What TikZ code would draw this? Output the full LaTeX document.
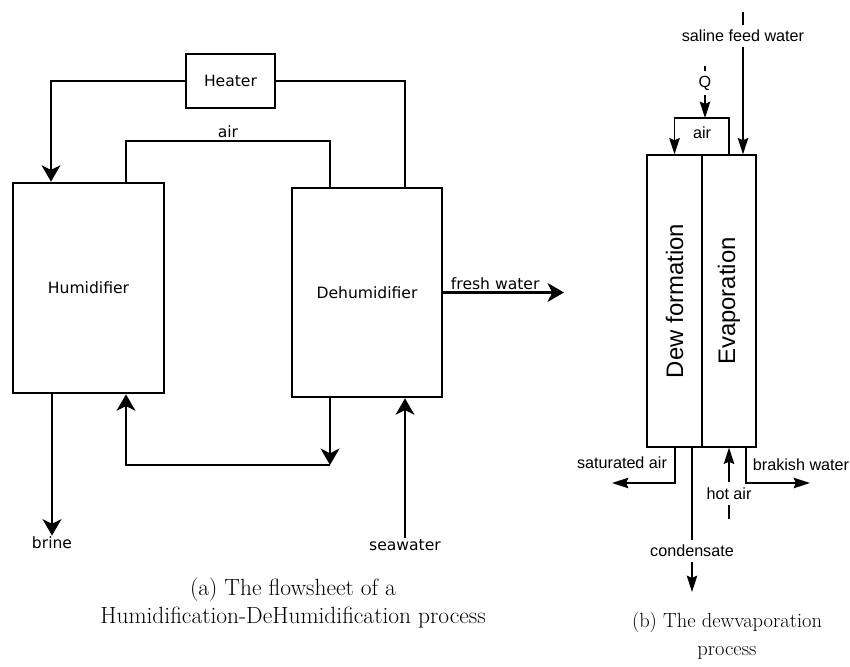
\documentclass[tikz,border=0pt]{standalone}
\usepackage{fontspec}
\usetikzlibrary{arrows.meta}
\newfontfamily\flowfont{DejaVu Sans}
\newfontfamily\dewfont{Liberation Sans}

\begin{document}
\begin{tikzpicture}[x=0.03cm,y=-0.03cm,
  unit/.style={draw,line width=2.2pt,inner sep=1pt},
  flow/.style={line width=2.2pt},
  flowarr/.style={flow,-{Stealth[length=14pt,width=16pt,inset=4pt]}},
  flowlbl/.style={font=\flowfont\fontsize{13.3}{16}\selectfont,inner sep=1pt},
  dew/.style={line width=1.1pt},
  dewarr/.style={dew,-{Stealth[length=14pt,width=9pt,inset=2pt]}},
  dewlbl/.style={font=\dewfont\fontsize{13.8}{16}\selectfont,inner sep=1pt},
  onwire/.style={dewlbl,fill=white,inner xsep=1pt,inner ysep=4.5pt},
  zone/.style={draw,line width=1.1pt,minimum height=8.76cm,inner sep=0pt},
  zonelbl/.style={font=\dewfont\fontsize{20.4}{24}\selectfont,rotate=90},
  caption/.style={align=center}]
\useasboundingbox (0,0) rectangle (850,666);

% (a) humidification - dehumidification
\node[unit,flowlbl,minimum width=2.67cm,minimum height=1.62cm] (heater) at (230.5,81) {Heater};
\node[unit,flowlbl,minimum width=4.53cm,minimum height=6.3cm] (hum) at (88.5,288) {Humidifier};
\node[unit,flowlbl,minimum width=4.5cm,minimum height=6.27cm] (dehum) at (367,292.5) {Dehumidifier};

\draw[flowarr] (heater.west) -| (hum.north -| 51,0);
\draw[flow] (dehum.north -| 405,0) |- (heater.east);
\draw[flow] (hum.north -| 126,0) -- (126,141)
  -- node[flowlbl,above=1pt] (airtxt) {air} (330,141) -- (dehum.north -| 330,0);

\coordinate (freshend) at (564,292.5);
\draw[flowarr] (dehum.east) -- node[flowlbl,above,pos=0.43] (fresh) {fresh water} (freshend);

\node[flowlbl] (brine) at (52,543) {brine};
\draw[flowarr] (hum.south -| brine) -- (brine.north);
\node[flowlbl] (sea) at (405,545) {seawater};
\draw[flowarr] (sea.north) -- (dehum.south -| sea);

\coordinate (retr) at (330,465);
\coordinate (retl) at (126,465);
\draw[flowarr] (dehum.south -| retr) -- (retr);
\draw[flowarr] (retr) -- (retl) -- (hum.south -| retl);

\node[caption,font=\fontsize{20}{23.9}\selectfont] (capa) at (293,603)
  {(a) The flowsheet of a\\Humidification-DeHumidification process};

% (b) dewvaporation
\node[zone,minimum width=1.65cm] (dewz) at (674.5,301) {};
\node[zone,minimum width=1.62cm] (evz) at (729,301) {};
\node[zonelbl] (dewtxt) at (dewz) {Dew formation};
\node[zonelbl] (evtxt) at (evz) {Evaporation};

\coordinate (feedtop) at (743,12);
\draw[dewarr] (feedtop) -- node[onwire,pos=0.168] (feed) {saline feed water} (evz.north -| feedtop);

\coordinate (airtop) at (705,118);
\coordinate (qtop) at (705,66);
\draw[dewarr] (evz.north) |- (airtop) -| (dewz.north);
\node[dewlbl] (airbox) at (702,133) {air};
\draw[dewarr] (qtop) -- node[onwire,pos=0.327] (q) {Q} (airtop);

\coordinate (satend) at (612,483);
\draw[dewarr] (dewz.south -| 675,0) |- (satend);
\node[dewlbl] (sat) at (622,463) {saturated air};

\coordinate (condend) at (692,592);
\draw[dewarr] (dewz.south -| condend) -- node[onwire,pos=0.717] (cond) {condensate} (condend);

\coordinate (hotend) at (729,519);
\draw[dewarr] (hotend) -- node[onwire,pos=0.36] (hot) {hot air} (evz.south -| hotend);

\coordinate (brakend) at (810,483);
\draw[dewarr] (evz.south -| 746,0) |- (brakend);
\node[dewlbl] (brak) at (801,465) {brakish water};

\node[caption,font=\fontsize{17.5}{23.9}\selectfont] (capb) at (727,636)
  {(b) The dewvaporation\\process};
\end{tikzpicture}
\end{document}
